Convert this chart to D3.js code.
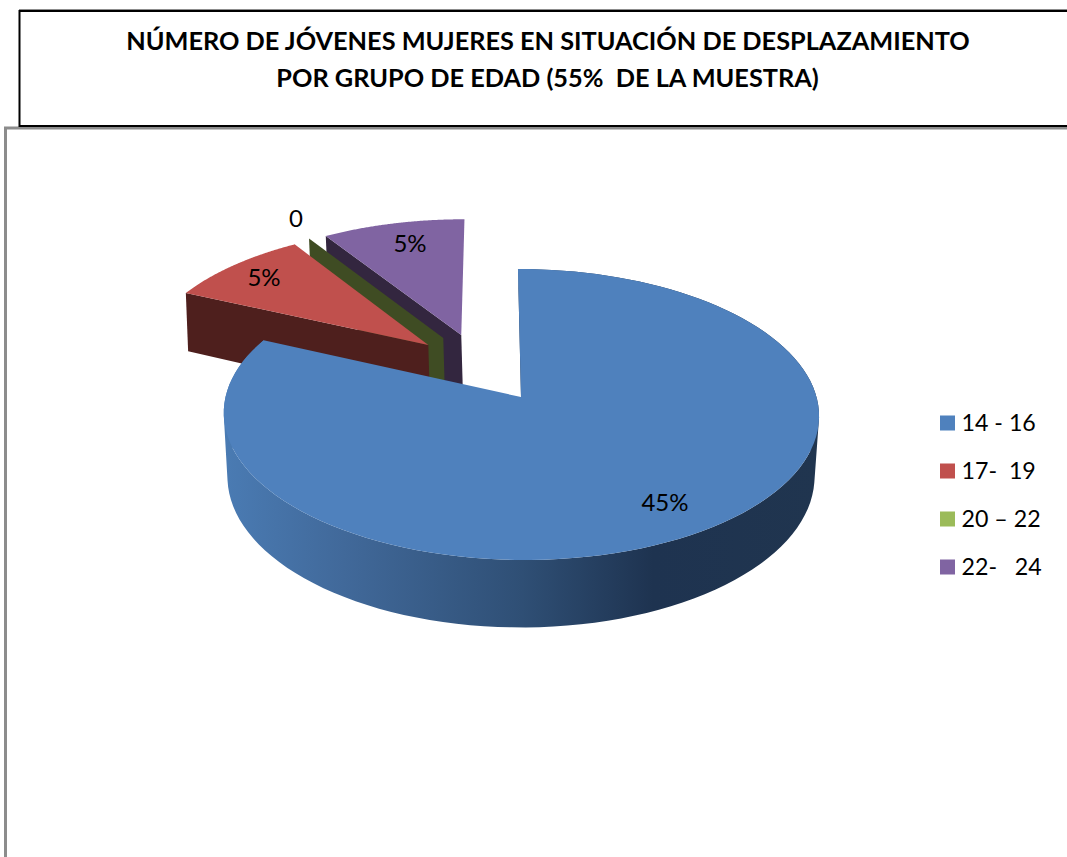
<!DOCTYPE html>
<html>
<head>
<meta charset="utf-8">
<script src="https://cdn.jsdelivr.net/npm/d3@7"></script>
<style>
  html, body { margin: 0; padding: 0; background: #fff; overflow: hidden; }
  text { font-family: Lato, "Open Sans", sans-serif; fill: #000; white-space: pre; }
</style>
</head>
<body>
<div id="chart"></div>
<script>
const titleLines = ['NÚMERO DE JÓVENES MUJERES EN SITUACIÓN DE DESPLAZAMIENTO', 'POR GRUPO DE EDAD (55%  DE LA MUESTRA)']
const categories = ['14 - 16', '17-  19', '20 – 22', '22-   24']
const values = [45, 5, 0, 5]
const valueLabels = ['45%', '5%', '0', '5%']
const topColors = ['#4f81bd', '#c0504d', '#9bbb59', '#8064a2']
const wallColors = ['#1f3450', '#4e1f1d', '#3f4c23', '#33263f']

const width = 1067
const height = 857

const svg = d3.select('#chart').append('svg')
  .attr('width', width)
  .attr('height', height)

// frames
svg.append('path')
  .attr('d', `M5.5,${height}V128H${width}`)
  .attr('fill', 'none')
  .attr('stroke', '#8c8c8c')
  .attr('stroke-width', 3)

svg.append('path')
  .attr('d', `M${width},9.5H19`)
  .attr('fill', 'none')
  .attr('stroke', '#8c8c8c')
  .attr('stroke-width', 1)

svg.append('path')
  .attr('d', `M${width + 2},11H19.5V126H${width + 2}`)
  .attr('fill', 'none')
  .attr('stroke', '#000')
  .attr('stroke-width', 2)

svg.selectAll('.title')
  .data(titleLines)
  .join('text')
  .attr('class', 'title')
  .attr('x', (d, i) => 548 - i * 0.5)
  .attr('y', (d, i) => 50 + i * 37)
  .attr('text-anchor', 'middle')
  .attr('font-size', 25.3)
  .attr('font-weight', 700)
  .text(d => d)

// the pie plane seen in perspective: unit circle (u, v) to screen
const topPlane = { x0: 521, y0: 397, bx: 295.5, ay: 143.4, k: 0.12, shear: -3.4 }
const bottomPlane = { x0: 521, y0: 461, bx: 292, ay: 149.3, k: 0.103, shear: 0 }

function project (plane, u, v) {
  const w = 1 + plane.k * v
  return [
    plane.x0 + (u * plane.bx + plane.shear * v) / w,
    plane.y0 - plane.ay * v / w
  ]
}

// explode offset of each slice on the plane
const offsets = [[0, 0], [-0.3236, 0.379], [-0.2717, 0.433], [-0.208, 0.456]]

const pie = d3.pie().sort(null)
const arcs = pie(values)

function rimPoint (plane, i, angle) {
  const [ou, ov] = offsets[i]
  return project(plane, ou + Math.sin(angle), ov + Math.cos(angle))
}

function apexPoint (plane, i) {
  return project(plane, offsets[i][0], offsets[i][1])
}

function rimPoints (plane, i) {
  const a = arcs[i]
  return d3.range(0, 121).map(s =>
    rimPoint(plane, i, a.startAngle + (a.endAngle - a.startAngle) * s / 120)
  )
}

const line = d3.line()

const defs = svg.append('defs')
const sideGradient = defs.append('linearGradient')
  .attr('id', 'blue-side')
  .attr('gradientUnits', 'userSpaceOnUse')
  .attr('x1', 224).attr('x2', 820).attr('y1', 0).attr('y2', 0)

sideGradient.selectAll('stop')
  .data([[0, '#4a7bb3'], [0.2, '#41699a'], [0.5, '#2f4f75'], [0.72, '#1e3350'], [1, '#20354f']])
  .join('stop')
  .attr('offset', d => d[0])
  .attr('stop-color', d => d[1])

const pieGroup = svg.append('g')

function drawWall (i, angle) {
  const rimTop = rimPoint(topPlane, i, angle)
  const rimBottom = rimPoint(bottomPlane, i, angle)
  pieGroup.append('path')
    .attr('d', line([rimTop, apexPoint(topPlane, i), apexPoint(bottomPlane, i), rimBottom]) + 'Z')
    .attr('fill', wallColors[i])
}

function drawTop (i) {
  pieGroup.append('path')
    .attr('d', line([apexPoint(topPlane, i), ...rimPoints(topPlane, i)]) + 'Z')
    .attr('fill', topColors[i])
}

// back to front
drawWall(3, arcs[3].startAngle)
drawTop(3)
drawWall(2, arcs[2].startAngle)
drawWall(1, arcs[1].startAngle)
drawTop(1)

// blue slice: start wall, curved side, then the top
drawWall(0, arcs[0].startAngle)

// all side quads go in one path, same winding, so no seams show between them
const rimTopBlue = rimPoints(topPlane, 0)
const rimBottomBlue = rimPoints(bottomPlane, 0)
const sidePath = d3.pairs(d3.range(rimTopBlue.length)).map(([a, b]) => {
  const quad = [rimTopBlue[a], rimTopBlue[b], rimBottomBlue[b], rimBottomBlue[a]]
  if (d3.polygonArea(quad) < 0) quad.reverse()
  return line(quad) + 'Z'
}).join('')

pieGroup.append('path')
  .attr('d', sidePath)
  .attr('fill', 'url(#blue-side)')

drawTop(0)

// value labels
const labelPos = [[665, 503], [264, 278], [296, 219], [410, 244]]

svg.selectAll('.value-label')
  .data(valueLabels)
  .join('text')
  .attr('class', 'value-label')
  .attr('x', (d, i) => labelPos[i][0])
  .attr('y', (d, i) => labelPos[i][1])
  .attr('dy', '0.35em')
  .attr('text-anchor', 'middle')
  .attr('font-size', 24)
  .text(d => d)

// legend
const legendY = d3.scalePoint().domain(categories).range([423, 567])
const color = d3.scaleOrdinal().domain(categories).range(topColors)

const legend = svg.selectAll('.legend')
  .data(categories)
  .join('g')
  .attr('class', 'legend')
  .attr('transform', d => `translate(940, ${legendY(d)})`)

legend.append('rect')
  .attr('y', -7.5)
  .attr('width', 15)
  .attr('height', 15)
  .attr('fill', d => color(d))

legend.append('text')
  .attr('x', 21.5)
  .attr('dy', '0.35em')
  .attr('font-size', 23.2)
  .text(d => d)
</script>
</body>
</html>
